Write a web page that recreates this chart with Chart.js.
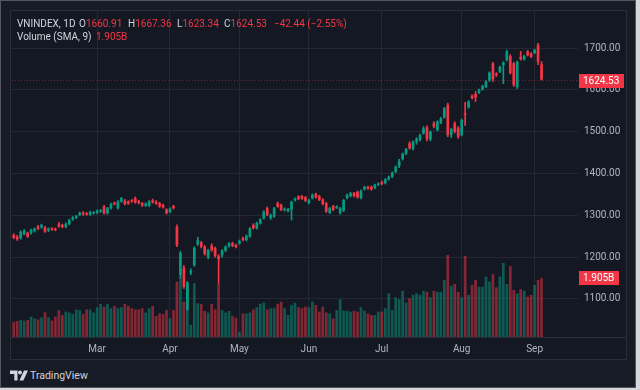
<!DOCTYPE html>
<html>
<head>
<meta charset="utf-8">
<title>VNINDEX 1D</title>
<script src="https://cdn.jsdelivr.net/npm/chart.js@4/dist/chart.umd.min.js"></script>
<style>
  html, body { margin:0; padding:0; width:640px; height:390px; overflow:hidden; background:#d6d7da; font-family: Roboto, "Noto Sans", sans-serif; }
  #frame { position:absolute; left:0; top:0; width:634px; height:386px; background:#171b26; border:1px solid #535762; }
  #box { position:absolute; left:10px; top:10px; width:617px; height:350px; background:#141823; }
  #chart { position:absolute; left:0; top:0; }
  #boxline { position:absolute; left:10px; top:10px; width:615px; height:348px; border:1px solid #2a2e39; pointer-events:none; }
  .t { position:absolute; font-size:10px; line-height:12px; white-space:nowrap; color:#d1d4dc; }
  .r { color:#f23645; }
  #brand { position:absolute; left:10px; top:370px; height:12px; }
  #brandText { position:absolute; left:30px; top:369px; font-size:10.5px; line-height:14px; color:#d1d4dc; }
</style>
</head>
<body>
<div id="frame"></div>
<div id="box"><canvas id="chart" width="617" height="350"></canvas></div>
<div id="boxline"></div>

<div class="t" style="left:17px;top:18px">VNINDEX, 1D</div>
<div class="t" style="left:79px;top:18px">O<span class="r">1660.91</span></div>
<div class="t" style="left:128px;top:18px">H<span class="r">1667.36</span></div>
<div class="t" style="left:177px;top:18px">L<span class="r">1623.34</span></div>
<div class="t" style="left:224px;top:18px">C<span class="r">1624.53</span></div>
<div class="t r" style="left:274px;top:18px">−42.44 (−2.55%)</div>
<div class="t" style="left:17px;top:31px">Volume (SMA, 9)</div>
<div class="t r" style="left:96px;top:31px">1.905B</div>

<svg id="brand" width="18" height="11" viewBox="0 0 18 11">
  <path d="M0 0h7.5v10h-3.2v-6.6h-4.3z" fill="#d1d4dc"/>
  <circle cx="10" cy="2" r="2" fill="#d1d4dc"/>
  <path d="M14 0h4l-4.6 10h-4z" fill="#d1d4dc"/>
</svg>
<div id="brandText">TradingView</div>

<script>
// ---------- data ----------
const dates = [
'2025-01-21','2025-01-22','2025-01-23','2025-01-24',
'2025-02-03','2025-02-04','2025-02-05','2025-02-06','2025-02-07','2025-02-10','2025-02-11','2025-02-12','2025-02-13','2025-02-14',
'2025-02-17','2025-02-18','2025-02-19','2025-02-20','2025-02-21','2025-02-24','2025-02-25','2025-02-26','2025-02-27','2025-02-28',
'2025-03-03','2025-03-04','2025-03-05','2025-03-06','2025-03-07','2025-03-10','2025-03-11','2025-03-12','2025-03-13','2025-03-14',
'2025-03-17','2025-03-18','2025-03-19','2025-03-20','2025-03-21','2025-03-24','2025-03-25','2025-03-26','2025-03-27','2025-03-28','2025-03-31',
'2025-04-01','2025-04-02','2025-04-03','2025-04-04','2025-04-08','2025-04-09','2025-04-10','2025-04-11','2025-04-14','2025-04-15',
'2025-04-16','2025-04-17','2025-04-18','2025-04-21','2025-04-22','2025-04-23','2025-04-24','2025-04-25','2025-04-28','2025-04-29',
'2025-05-05','2025-05-06','2025-05-07','2025-05-08','2025-05-09','2025-05-12','2025-05-13','2025-05-14','2025-05-15','2025-05-16',
'2025-05-19','2025-05-20','2025-05-21','2025-05-22','2025-05-23','2025-05-26','2025-05-27','2025-05-28','2025-05-29','2025-05-30',
'2025-06-02','2025-06-03','2025-06-04','2025-06-05','2025-06-06','2025-06-09','2025-06-10','2025-06-11','2025-06-12','2025-06-13',
'2025-06-16','2025-06-17','2025-06-18','2025-06-19','2025-06-20','2025-06-23','2025-06-24','2025-06-25','2025-06-26','2025-06-27','2025-06-30',
'2025-07-01','2025-07-02','2025-07-03','2025-07-04','2025-07-07','2025-07-08','2025-07-09','2025-07-10','2025-07-11','2025-07-14',
'2025-07-15','2025-07-16','2025-07-17','2025-07-18','2025-07-21','2025-07-22','2025-07-23','2025-07-24','2025-07-25','2025-07-28',
'2025-07-29','2025-07-30','2025-07-31',
'2025-08-01','2025-08-04','2025-08-05','2025-08-06','2025-08-07','2025-08-08','2025-08-11','2025-08-12','2025-08-13','2025-08-14',
'2025-08-15','2025-08-18','2025-08-19','2025-08-20','2025-08-21','2025-08-22','2025-08-25','2025-08-26','2025-08-27','2025-08-28','2025-08-29',
'2025-09-03','2025-09-04','2025-09-05'
];

const open = [
1253,1249,1245,1255,1258,1258,1263,1273,1271,1271,1264,1269,1268,1279,1277,1272,1279,1290,1294,1301,
1306,1305,1302,1305,1306,1309,1321,1305,1317,1330,1317,1333,1335,1333,1336,1341,1334,1329,1323,1323,
1336,1333,1329,1325,1314,1308,1322,
1272,1157,1174,1075,1163,1181,1231,1235,1225,1200,1227,1221,1203,1205,1216,1226,1233,1229,1233,1245,
1241,1249,1277,1269,1281,1293,1317,1294,1297,1329,1325,1313,1310,1314,1336,1345,1346,1343,1329,1341,
1351,1346,1338,1329,1306,1322,1318,1306,1311,1341,1346,1353,1356,1341,1362,1368,1368,1365,1373,1380,
1377,1386,1392,1404,1418,1434,1447,1472,1459,1476,1480,1496,1510,1482,1520,1504,1521,1534,1564,1492,
1520,1508,1492,1543,1558,1586,1590,1593,1601,1607,1622,1663,1639,1643,1659,1671,1681,1663,1607,1679,
1673,1691,1687,1688,1707,1660.91
];
const high = [
1256,1252,1263,1266,1260,1267,1270,1276,1279,1274,1270,1271,1270,1283,1279,1282,1291,1297,1300,1308,
1309,1307,1310,1309,1313,1314,1324,1319,1329,1332,1335,1343,1338,1335,1338,1344,1336,1331,1330,1335,
1339,1335,1331,1327,1316,1318,1324,
1277,1214,1180,1142,1172,1225,1248,1238,1228,1219,1232,1224,1206,1218,1227,1235,1236,1231,1241,1248,
1253,1271,1280,1284,1292,1311,1320,1303,1319,1332,1327,1318,1317,1334,1342,1347,1348,1345,1339,1351,
1353,1348,1340,1331,1319,1324,1323,1319,1338,1351,1355,1355,1358,1361,1370,1370,1370,1375,1378,1382,
1388,1394,1404,1418,1434,1449,1460,1476,1478,1486,1494,1512,1514,1502,1524,1526,1534,1558,1568,1508,
1524,1512,1530,1570,1574,1588,1596,1602,1611,1622,1643,1666,1641,1657,1667,1695,1684,1666,1669,1692,
1683,1694,1689,1697,1711,1667.36
];
const low = [
1244,1240,1243,1253,1247,1255,1260,1265,1269,1259,1261,1264,1263,1271,1270,1270,1277,1288,1292,1299,
1300,1300,1300,1303,1304,1307,1303,1303,1315,1325,1315,1331,1325,1326,1331,1329,1327,1321,1321,1321,
1329,1326,1319,1317,1303,1306,1315,
1225,1150,1125,1073,1158,1178,1228,1222,1205,1196,1214,1200,1138,1200,1213,1224,1225,1222,1231,1239,
1239,1247,1267,1267,1279,1291,1299,1290,1295,1319,1311,1310,1308,1289,1334,1337,1338,1333,1327,1339,
1341,1335,1325,1307,1304,1311,1316,1303,1309,1339,1344,1344,1341,1339,1360,1362,1360,1363,1371,1373,
1375,1384,1390,1402,1414,1432,1445,1458,1456,1470,1477,1494,1478,1478,1509,1502,1519,1532,1488,1486,
1497,1484,1490,1515,1556,1578,1572,1591,1599,1605,1620,1620,1632,1641,1615,1669,1638,1608,1603,1671,
1671,1681,1677,1686,1660,1623.34
];
const close = [
1246,1243,1261,1263,1249,1265,1268,1268,1277,1261,1268,1266,1265,1273,1272,1280,1289,1295,1298,1306,
1302,1302,1307,1307,1311,1312,1305,1317,1327,1327,1333,1341,1327,1328,1333,1331,1329,1323,1328,1333,
1331,1328,1321,1319,1305,1316,1317,
1229,1210,1129,1139,1167,1222,1241,1225,1208,1217,1217,1203,1195,1216,1225,1233,1227,1224,1239,1241,
1251,1269,1269,1282,1290,1309,1301,1301,1317,1321,1313,1316,1315,1332,1340,1339,1340,1335,1337,1349,
1343,1337,1327,1309,1317,1313,1321,1317,1336,1349,1353,1346,1343,1359,1368,1364,1362,1373,1376,1375,
1386,1392,1402,1416,1430,1447,1458,1460,1476,1482,1492,1508,1482,1500,1512,1524,1532,1556,1492,1506,
1500,1488,1528,1540,1572,1580,1582,1600,1609,1620,1641,1625,1635,1655,1665,1691,1640,1612,1667,1673,
1681,1683,1679,1695,1667,1624.53
];
// volume in billions of shares
const volume = [
0.49,0.52,0.55,0.53,0.55,0.66,0.60,0.57,0.64,0.80,0.64,0.53,0.66,0.87,0.71,0.82,0.79,0.74,0.89,0.87,
0.74,0.89,0.89,0.79,0.96,1.07,0.98,1.07,0.93,1.00,0.93,0.96,1.07,1.00,0.93,0.89,0.89,0.93,0.79,0.93,
1.00,0.68,0.76,0.74,0.87,0.60,0.87,
1.79,1.95,1.14,1.74,0.39,1.74,1.09,1.07,0.84,0.79,1.07,0.89,1.74,0.87,0.79,0.84,0.68,0.62,0.17,0.76,
0.76,0.79,0.89,0.96,1.07,1.11,0.89,0.93,0.93,1.07,1.14,0.93,0.71,
1.03,1.11,0.96,0.93,0.98,0.96,1.14,1.03,0.82,0.98,0.79,0.76,0.60,0.87,1.22,0.85,0.85,0.82,0.85,0.82,
0.96,0.85,0.76,0.71,0.71,0.82,0.82,0.93,1.41,0.87,1.28,1.22,1.49,1.11,1.25,1.36,1.41,1.36,1.49,1.46,
1.28,1.49,1.46,1.46,1.84,2.65,1.65,1.71,1.46,1.28,2.62,1.36,1.68,1.84,1.62,1.62,1.95,1.79,2.03,1.60,
1.95,2.39,1.71,2.29,1.52,1.41,1.54,1.49,1.30,1.36,1.68,1.84,1.905
];

// time-axis tick labels
const monthTickDates = ['2025-03-03','2025-04-01','2025-05-05','2025-06-02','2025-07-01','2025-08-01','2025-09-03'];
const monthTickNames = ['Mar','Apr','May','Jun','Jul','Aug','Sep'];
// price-axis ticks
const priceTickStep = 100;

// ---------- chart ----------
const RIGHT_BLANK_BARS = 10;            // TradingView right margin
const labels = dates.concat(Array(RIGHT_BLANK_BARS).fill(''));
const UP = '#089981', DOWN = '#f23645';
const GRID = 'rgba(42,46,57,0.75)';
const isUp = close.map((c, i) => c >= open[i]);
const candleColor = isUp.map(u => u ? UP : DOWN);
const volColor = isUp.map(u => u ? 'rgba(8,153,129,0.5)' : 'rgba(242,54,69,0.5)');

Chart.defaults.font.family = 'Roboto, "Noto Sans", sans-serif';

function drawTag(ctx, x, y, text) {
  ctx.font = '10px Roboto, "Noto Sans", sans-serif';
  const w = Math.ceil(ctx.measureText(text).width) + 8;
  ctx.fillStyle = '#f23645';
  ctx.fillRect(x, Math.round(y - 7), w, 14);
  ctx.fillStyle = '#ffffff';
  ctx.textBaseline = 'middle';
  ctx.textAlign = 'left';
  ctx.fillText(text, x + 4, Math.round(y) + 0.5);
}

const overlay = {
  id: 'overlay',
  afterDraw(chart) {
    const { ctx, chartArea: ca, scales } = chart;
    const last = close.length - 1;
    ctx.save();
    // time axis separator
    ctx.strokeStyle = '#2a2e39';
    ctx.lineWidth = 1;
    ctx.beginPath();
    ctx.moveTo(0, ca.bottom + 0.5);
    ctx.lineTo(chart.width, ca.bottom + 0.5);
    ctx.stroke();
    // last price dotted line
    const py = Math.round(scales.y.getPixelForValue(close[last])) + 0.5;
    ctx.strokeStyle = 'rgba(242,54,69,0.42)';
    ctx.setLineDash([1, 2]);
    ctx.beginPath();
    ctx.moveTo(ca.left, py);
    ctx.lineTo(ca.right, py);
    ctx.stroke();
    ctx.setLineDash([]);
    // value tags on the price scale
    drawTag(ctx, ca.right + 1, py, close[last].toFixed(2));
    const vy = scales.yVol.getPixelForValue(volume[last]);
    drawTag(ctx, ca.right + 1, vy, volume[last].toFixed(3) + 'B');
    ctx.restore();
  }
};

new Chart(document.getElementById('chart'), {
  type: 'bar',
  data: {
    labels: labels,
    datasets: [
      { label: 'Volume', data: volume, yAxisID: 'yVol', backgroundColor: volColor,
        barPercentage: 0.78, categoryPercentage: 1, grouped: false, order: 3 },
      { label: 'Wick', data: low.map((l, i) => [l, high[i]]), yAxisID: 'y', backgroundColor: candleColor,
        barThickness: 1, grouped: false, order: 2 },
      { label: 'Body', data: open.map((o, i) => [o, close[i]]), yAxisID: 'y', backgroundColor: candleColor,
        barPercentage: 0.78, categoryPercentage: 1, grouped: false, minBarLength: 1, order: 1 }
    ]
  },
  options: {
    responsive: false,
    animation: false,
    layout: { padding: { left: 2, top: 0, right: 0, bottom: 0 } },
    plugins: { legend: { display: false }, tooltip: { enabled: false } },
    scales: {
      x: {
        type: 'category',
        offset: true,
        border: { display: false },
        grid: {
          offset: false, drawTicks: false, lineWidth: 1,
          color: c => (c.tick && c.tick.label) ? GRID : 'rgba(0,0,0,0)'
        },
        ticks: {
          autoSkip: false, maxRotation: 0, minRotation: 0, padding: 6,
          color: '#b2b5be', font: { size: 10 },
          callback: (v, i) => {
            const k = monthTickDates.indexOf(labels[i]);
            return k >= 0 ? monthTickNames[k] : '';
          }
        },
        afterFit: s => { s.height = 23; s.paddingLeft = 0; s.paddingRight = 0; }
      },
      y: {
        position: 'right',
        min: 1009.16, max: 1790.84,
        border: { display: false },
        grid: { color: GRID, drawTicks: false, lineWidth: 1 },
        ticks: {
          stepSize: priceTickStep, includeBounds: false, padding: 6,
          color: '#b2b5be', font: { size: 10 },
          callback: v => Number(v).toFixed(2)
        },
        afterFit: s => { s.width = 49; s.paddingTop = 0; s.paddingBottom = 0; }
      },
      yVol: { display: false, min: 0, max: 10.56 }
    }
  },
  plugins: [overlay]
});
</script>
</body>
</html>
